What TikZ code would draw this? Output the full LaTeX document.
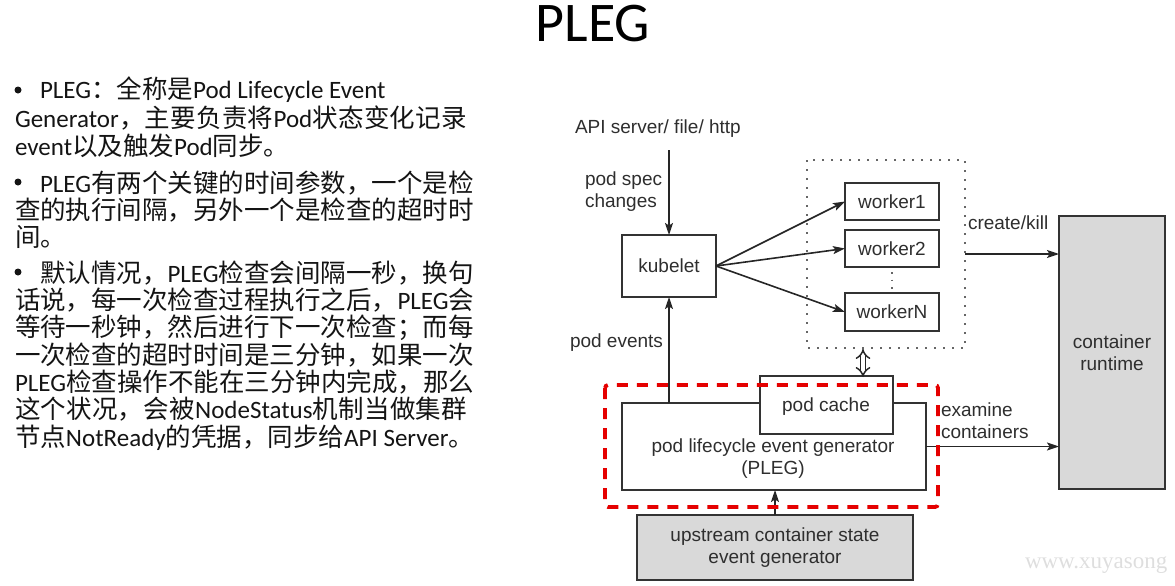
\documentclass[tikz,border=0pt]{standalone}
\usepackage{fontspec}
\setmainfont{Liberation Sans}
\newfontfamily\cjk{Noto Sans CJK SC}
\newfontfamily\latinfont{Carlito}
\newfontfamily\titlefont{Carlito}
\newfontfamily\wmfont{Liberation Serif}
\usetikzlibrary{arrows.meta}
% stretchable glue between CJK characters (for justified lines)
\XeTeXinterchartokenstate=1
\newXeTeXintercharclass\mycjkclass
\newcount\mycc
\mycc="4E00
\loop
  \XeTeXcharclass\mycc=\mycjkclass
  \advance\mycc by 1
\ifnum\mycc<"A000 \repeat
\XeTeXcharclass"FF0C=\mycjkclass
\XeTeXcharclass"FF1A=\mycjkclass
\XeTeXcharclass"FF1B=\mycjkclass
\XeTeXcharclass"3002=\mycjkclass
\XeTeXcharclass"3001=\mycjkclass
\XeTeXinterchartoks\mycjkclass\mycjkclass={\hskip0pt plus 1fil\relax}
\newcommand\gfil{\hskip0pt plus 1fil\relax}
\newcommand\la[1]{\gfil{\latinfont\fontsize{25}{27}\selectfont #1}\gfil}
\newcommand\las[1]{{\latinfont\fontsize{25}{27}\selectfont #1}\gfil}
\begin{document}
\begin{tikzpicture}[x=1pt,y=-1pt,
  every node/.style={inner sep=0pt, outer sep=0pt},
  lt/.style={anchor=base west, font=\cjk\fontsize{25.5}{27}\selectfont, text=black!92},
  bul/.style={circle, fill=black!92, minimum size=7pt},
  dtext/.style={font=\fontsize{19}{22}\selectfont, text=black!82},
  box/.style={draw=black!80, line width=2pt, dtext, align=center},
  graybox/.style={box, fill=black!15},
  arr/.style={draw=black!85, line width=1.6pt, -{Stealth[length=12pt,width=8pt,inset=2.5pt]}},
  dotbox/.style={draw=black!60, line width=1.8pt, dash pattern=on 1.6pt off 7.4pt},
  reddash/.style={draw=red!90!black, line width=3.8pt, dash pattern=on 11pt off 9pt, rounded corners=3pt},
]
\useasboundingbox (0,0) rectangle (1175,586);

% title
\node[anchor=base, font=\titlefont\fontsize{56}{60}\selectfont] (title) at (593,42) {PLEG};

% left text
\node[bul] (b1) at (18,90) {};
\node[lt] (l1) at (40,99) {\la{PLEG}：全称是\la{Pod Lifecycle Event}};
\node[lt] (l2) at (15,127) {\makebox[452pt][s]{\las{Generator}，主要负责将\la{Pod}状态变化记录}};
\node[lt] (l3) at (15,155) {\la{event}以及触发\la{Pod}同步。};
\node[bul] (b2) at (18,182) {};
\node[lt] (l4) at (40,192) {\makebox[433pt][s]{\las{PLEG}有两个关键的时间参数，一个是检}};
\node[lt] (l5) at (15,219) {\makebox[458pt][s]{查的执行间隔，另外一个是检查的超时时}};
\node[lt] (l6) at (15,246) {间。};
\node[bul] (b3) at (18,272) {};
\node[lt] (l7) at (40,282) {\makebox[433pt][s]{默认情况，\la{PLEG}检查会间隔一秒，换句}};
\node[lt] (l8) at (15,309) {\makebox[458pt][s]{话说，每一次检查过程执行之后，\la{PLEG}会}};
\node[lt] (l9) at (15,336) {\makebox[458pt][s]{等待一秒钟，然后进行下一次检查；而每}};
\node[lt] (l10) at (15,364) {\makebox[458pt][s]{一次检查的超时时间是三分钟，如果一次}};
\node[lt] (l11) at (15,391) {\makebox[458pt][s]{\las{PLEG}检查操作不能在三分钟内完成，那么}};
\node[lt] (l12) at (15,418) {\makebox[452pt][s]{这个状况，会被\la{NodeStatus}机制当做集群}};
\node[lt] (l13) at (15,446) {节点\la{NotReady}的凭据，同步给\la{API Server}。};

% diagram
\node[dtext, anchor=west] (api) at (575,129) {API server/ file/ http};
\coordinate (apiB) at (669,150);
\node[dtext, anchor=west, align=left] (spec) at (585,192) {pod spec\\changes};

\node[box, minimum width=94pt, minimum height=62pt] (kub) at (669,266) {kubelet};

\draw[dotbox] (807,160) rectangle (965,348);
\node[minimum width=158pt, minimum height=188pt] (dots) at (886,254) {};

\node[box, minimum width=94pt, minimum height=37pt] (w1) at (892,201.5) {worker1};
\node[box, minimum width=94pt, minimum height=37pt] (w2) at (892,248.5) {worker2};
\node[box, minimum width=94pt, minimum height=38pt] (wN) at (892,312) {workerN};
\draw[draw=black!60, line width=1.8pt, dash pattern=on 1.6pt off 6pt] ([yshift=-5pt]w2.south) -- ([yshift=3pt]wN.north);

\node[graybox, minimum width=106pt, minimum height=273pt] (rt) at (1112,352.5) {container\\runtime};

\node[box, minimum width=304pt, minimum height=87pt] (pleg) at (774,446.5) {};
\node[dtext, align=center] (plegt) at (773,459) {pod lifecycle event generator\\(PLEG)};
\node[box, fill=white, minimum width=133pt, minimum height=58pt] (cache) at (826.5,405) {};
\node[dtext] (cachet) at (826,407) {pod cache};

\node[graybox, minimum width=276pt, minimum height=65pt] (up) at (775,547.5) {upstream container state\\event generator};

\node[dtext, anchor=west] (pev) at (570,343) {pod events};
\node[dtext, anchor=west] (ck) at (968,223) {create/kill};
\node[dtext, anchor=west, align=left] (ex) at (941,421) {examine\\containers};

% connectors
\draw[arr] (apiB) -- (kub.north);
\draw[arr] (kub.south |- pleg.north) -- (kub.south);
\draw[arr] (kub.east) -- (w1.west);
\draw[arr] (kub.east) -- (w2.west);
\draw[arr] (kub.east) -- (wN.west);
\draw[arr] (dots.east) -- (dots.east -| rt.west);
\draw[arr] (pleg.east) -- (pleg.east -| rt.west);
\draw[arr] (up.north) -- (up.north |- pleg.south);
\coordinate (dA) at (863,349);
\draw[draw=black!85, line width=1.5pt, double=white, double distance=3.5pt, {Implies[length=6pt]}-{Implies[length=6pt]}] (dA) -- ([yshift=-1pt]dA |- cache.north);

% red dashed boundary
\draw[reddash] (605,385) rectangle (938,507);

% watermark
\node[anchor=base west, font=\wmfont\fontsize{23}{25}\selectfont, text=black!13] (wm) at (1025,568) {www.xuyasong};
\end{tikzpicture}
\end{document}
